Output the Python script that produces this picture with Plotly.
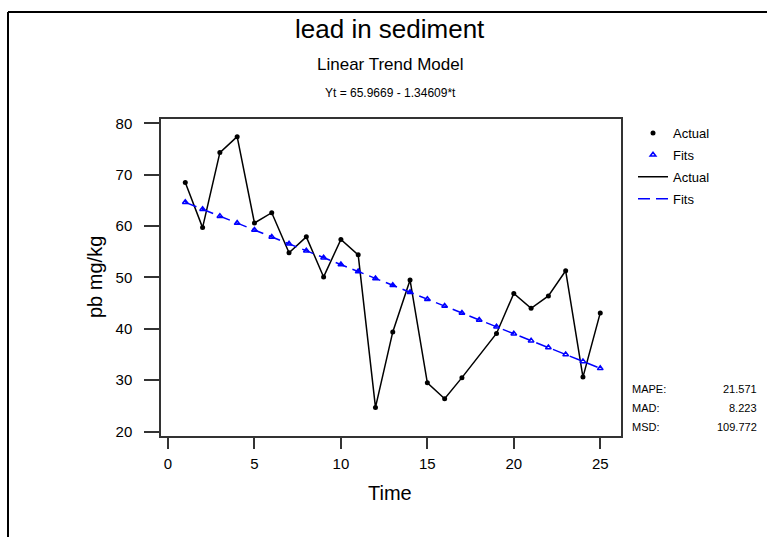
import plotly.graph_objects as go

# ---- data ----
time_idx = list(range(1, 26))
actual = [68.5, 59.7, 74.3, 77.4, 60.6, 62.6, 54.8, 57.9, 50.1, 57.4,
          54.4, 24.7, 39.4, 49.5, 29.5, 26.4, 30.5, None, 39.1, 46.9,
          44.0, 46.4, 51.3, 30.6, 43.1]
fits = [64.62, 63.27, 61.93, 60.58, 59.24, 57.89, 56.54, 55.20, 53.85, 52.51,
        51.16, 49.81, 48.47, 47.12, 45.78, 44.43, 43.08, 41.74, 40.39, 39.05,
        37.70, 36.35, 35.01, 33.66, 32.31]
x_ticks = [0, 5, 10, 15, 20, 25]
y_ticks = [20, 30, 40, 50, 60, 70, 80]
stat_names = ["MAPE:", "MAD:", "MSD:"]
stat_values = ["21.571", "8.223", "109.772"]

# ---- layout geometry ----
W, H = 767, 537
L, R, T, B = 161, 146, 119, 101
PW, PH = W - L - R, H - T - B
FONT = "Arial, Liberation Sans, sans-serif"


def px_x(px):
    return (px - L) / PW


def px_y(py):
    return (H - B - py) / PH


fig = go.Figure()

fig.add_trace(go.Scatter(x=time_idx, y=actual, mode="lines", name="Actual",
                         line=dict(color="black", width=1.5), connectgaps=True,
                         legendrank=3, legendgroup="g3"))
fig.add_trace(go.Scatter(x=time_idx, y=fits, mode="lines", name="Fits",
                         line=dict(color="#0000FF", width=1.5, dash="12px,6px"),
                         legendrank=4, legendgroup="g4"))
fig.add_trace(go.Scatter(x=time_idx, y=actual, mode="markers", name="Actual",
                         marker=dict(color="black", size=5, symbol="circle"),
                         legendrank=1, legendgroup="g1"))
fig.add_trace(go.Scatter(x=time_idx, y=fits, mode="markers", name="Fits",
                         marker=dict(color="#0000FF", size=5, symbol="triangle-up-open",
                                     line=dict(width=1.5, color="#0000FF")),
                         legendrank=2, legendgroup="g2"))

axis_common = dict(showgrid=False, zeroline=False, showline=True, mirror=True,
                   linecolor="#333333", linewidth=1.5, ticks="outside",
                   tickcolor="#333333", tickwidth=1.5,
                   tickfont=dict(family=FONT, size=15, color="black"))

fig.update_xaxes(range=[-0.405, 26.2], tickvals=x_ticks, ticklen=11,
                 ticklabelstandoff=2, **axis_common)
fig.update_yaxes(range=[19.14, 80.84], tickvals=y_ticks, ticklen=15,
                 ticklabelstandoff=9, **axis_common)

annotations = [
    dict(text="lead in sediment", x=px_x(390), y=px_y(29), font=dict(size=26)),
    dict(text="Linear Trend Model", x=px_x(390), y=px_y(65), font=dict(size=17)),
    dict(text="Yt = 65.9669 - 1.34609*t", x=px_x(390), y=px_y(93), font=dict(size=12)),
    dict(text="Time", x=px_x(390), y=px_y(493), font=dict(size=20)),
    dict(text="pb mg/kg", x=px_x(95), y=px_y(277), font=dict(size=20), textangle=-90),
]
for i, (n, v) in enumerate(zip(stat_names, stat_values)):
    yy = px_y(389 + 19 * i)
    annotations.append(dict(text=n, x=px_x(630), y=yy, xanchor="left", font=dict(size=11)))
    annotations.append(dict(text=v, x=px_x(759), y=yy, xanchor="right", font=dict(size=11)))

for a in annotations:
    a.setdefault("xanchor", "center")
    a.update(xref="paper", yref="paper", yanchor="middle", showarrow=False)
    a["font"].update(family=FONT, color="black")

fig.update_layout(
    width=W, height=H, autosize=False,
    margin=dict(l=L, r=R, t=T, b=B),
    paper_bgcolor="white", plot_bgcolor="white",
    annotations=annotations,
    showlegend=True,
    legend=dict(x=px_x(633), y=px_y(118), xanchor="left", yanchor="top",
                font=dict(family=FONT, size=13, color="black"),
                bgcolor="rgba(0,0,0,0)", borderwidth=0, itemwidth=30,
                tracegroupgap=2, traceorder="grouped"),
    shapes=[
        dict(type="line", xref="paper", yref="paper", x0=px_x(8), x1=px_x(780),
             y0=px_y(12), y1=px_y(12), line=dict(color="black", width=2)),
        dict(type="line", xref="paper", yref="paper", x0=px_x(8), x1=px_x(8),
             y0=px_y(12), y1=px_y(550), line=dict(color="black", width=2)),
    ],
)

fig.write_html("out.html")
